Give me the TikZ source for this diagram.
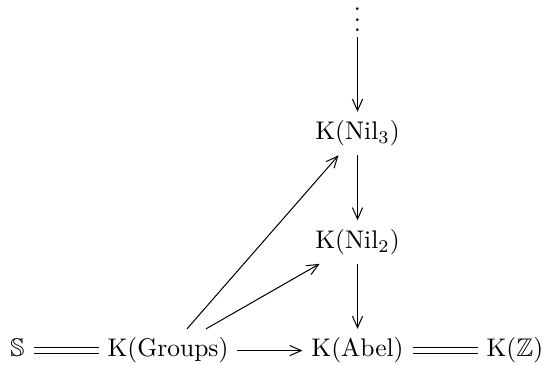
\documentclass[tikz,border=0pt]{standalone}
\usepackage{amsmath,amssymb}
\usetikzlibrary{arrows.meta,positioning}

\begin{document}
\begin{tikzpicture}[>={Straight Barb[length=4.5pt,width=4pt]},node distance=25.5pt,
    every node/.style={text height=7.5pt,text depth=2.5pt}]
  \useasboundingbox (-6.86pt,-5.6pt) rectangle (206.1pt,137.5pt);
  \node (S) at (0,0) {$\mathbb{S}$};
  \node (KG) [right=of S] {K(Groups)};
  \node (KA) [right=of KG] {K(Abel)};
  \node (KZ) [right=of KA] {K($\mathbb{Z}$)};
  \node (N2) [above=of KA] {K(Nil$_2$)};
  \node (N3) [above=of N2] {K(Nil$_3$)};
  \node (D) [above=29.4pt of N3,text height=10pt,text depth=0pt,inner ysep=2pt] {$\vdots$};
  \draw[double,double distance=1.8pt] (S) -- (KG);
  \draw[->] (KG) -- (KA);
  \draw[double,double distance=1.8pt] (KA) -- (KZ);
  \draw[->] (D) -- (N3);
  \draw[->] (N3) -- (N2);
  \draw[->] (N2) -- (KA);
  \draw[->] (KG) -- (N3);
  \draw[->] (KG) -- (N2);
\end{tikzpicture}
\end{document}
